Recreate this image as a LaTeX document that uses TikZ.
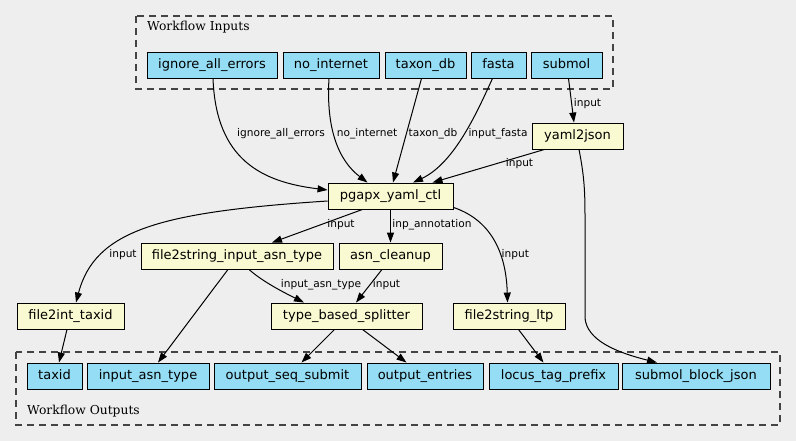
\documentclass[tikz,border=0pt]{standalone}
\usepackage{fontspec}
\setmainfont{DejaVu Sans}
\newfontfamily\cluserif{DejaVu Serif}
\usetikzlibrary{arrows.meta,calc}
\definecolor{bgc}{HTML}{EEEEEE}
\definecolor{ioblue}{HTML}{94DDF4}
\definecolor{stepyel}{HTML}{FAFAD2}
\definecolor{clug}{HTML}{444444}
\tikzset{
  box/.style={draw=black, line width=0.9pt, minimum height=26pt, inner sep=0pt,
    font=\fontsize{13}{15}\selectfont, text height=9.6pt, text depth=3pt},
  iobox/.style={box, fill=ioblue},
  stepbox/.style={box, fill=stepyel},
  clu/.style={draw=clug, line width=1.1pt, dash pattern=on 7pt off 5pt},
  clulabel/.style={font=\cluserif\fontsize{12.3}{14}\selectfont, anchor=west, inner sep=0pt},
  conn/.style={line width=1pt, -{Triangle[length=10pt,width=7pt]}},
  elabel/.style={font=\fontsize{10.6}{12}\selectfont, inner sep=0pt, text height=7.8pt, text depth=2.4pt}
}
\begin{document}
\begin{tikzpicture}[x=1pt,y=-1pt]
\fill[bgc] (0,0) rectangle (796,441);
\useasboundingbox (0,0) rectangle (796,441);
% clusters
\draw[clu] (136,16) rectangle (613,89);
\node[clulabel] (inlab) at (147,27.5) {Workflow Inputs};
\draw[clu] (16,352) rectangle (780,425);
\node[clulabel] (outlab) at (27,411) {Workflow Outputs};
% inputs
\node[iobox, minimum width=130pt] (ign) at (212,65) {ignore\_all\_errors};
\node[iobox, minimum width=96pt] (noi) at (331,65) {no\_internet};
\node[iobox, minimum width=81pt] (tax) at (425.5,65) {taxon\_db};
\node[iobox, minimum width=55pt] (fas) at (498.5,65) {fasta};
\node[iobox, minimum width=71pt] (sub) at (566.5,65) {submol};
% steps
\node[stepbox, minimum width=91pt] (y2j) at (577.5,136) {yaml2json};
\node[stepbox, minimum width=125pt] (pg) at (390.5,196) {pgapx\_yaml\_ctl};
\node[stepbox, minimum width=192pt] (fsa) at (237,256) {file2string\_input\_asn\_type};
\node[stepbox, minimum width=103pt] (asn) at (390.5,256) {asn\_cleanup};
\node[stepbox, minimum width=107pt] (fit) at (70.5,316) {file2int\_taxid};
\node[stepbox, minimum width=151pt] (tbs) at (346.5,316) {type\_based\_splitter};
\node[stepbox, minimum width=112pt] (ltp) at (509,316) {file2string\_ltp};
% outputs
\node[iobox, minimum width=55pt] (o1) at (54.5,376) {taxid};
\node[iobox, minimum width=122pt] (o2) at (148,376) {input\_asn\_type};
\node[iobox, minimum width=147pt] (o3) at (287.5,376) {output\_seq\_submit};
\node[iobox, minimum width=116pt] (o4) at (425,376) {output\_entries};
\node[iobox, minimum width=129pt] (o5) at (553.5,376) {locus\_tag\_prefix};
\node[iobox, minimum width=148pt] (o6) at (696,376) {submol\_block\_json};
% connectors
\draw[conn] ([xshift=1pt]ign.south) .. controls (216,160) and (262,182) .. ([yshift=6pt]pg.west);
\draw[conn] ([xshift=-2pt]noi.south) .. controls (326,128) and (338,160) .. ([xshift=-23pt]pg.north);
\draw[conn] ([xshift=-4pt]tax.south) -- ([xshift=2.5pt]pg.north);
\draw[conn] ([xshift=-6pt]fas.south) .. controls (478,110) and (455,163) .. ([xshift=22.5pt]pg.north);
\draw[conn] ([xshift=2pt]sub.south) -- ([xshift=-3.5pt]y2j.north);
\draw[conn] ([xshift=-33pt]y2j.south) -- ([xshift=42pt]pg.north);
\draw[conn] ([yshift=-5pt]pg.west) .. controls (160,212) and (95,230) .. ([xshift=5.5pt]fit.north);
\draw[conn] ([xshift=-28pt]pg.south) -- ([xshift=35pt]fsa.north);
\draw[conn] (pg.south) -- (asn.north);
\draw[conn] ([yshift=2pt]pg.south east) .. controls (485,218) and (506,245) .. ([xshift=-1.5pt]ltp.north);
\draw[conn] ([xshift=1.5pt]y2j.south) .. controls (584,175) and (585,190) .. (585,215) -- (585,318) .. controls (587,340) and (615,352) .. ([xshift=-39pt]o6.north);
\draw[conn] ([xshift=-9pt]fsa.south) -- ([xshift=10pt]o2.north);
\draw[conn] ([xshift=12pt]fsa.south) .. controls (263,282) and (285,293) .. ([xshift=-42.5pt]tbs.north);
\draw[conn] ([xshift=-8.5pt]asn.south) -- ([xshift=9.5pt]tbs.north);
\draw[conn] ([xshift=-3.5pt]fit.south) -- ([xshift=4.5pt]o1.north);
\draw[conn] ([xshift=-12pt]tbs.south) -- ([xshift=14pt]o3.north);
\draw[conn] ([xshift=16pt]tbs.south) -- ([xshift=-18.5pt]o4.north);
\draw[conn] ([xshift=9.5pt]ltp.south) -- ([xshift=-10pt]o5.north);
% edge labels
\node[elabel] (l1) at (281,134) {ignore\_all\_errors};
\node[elabel] (l2) at (367,134) {no\_internet};
\node[elabel] (l3) at (433,134) {taxon\_db};
\node[elabel] (l4) at (498,134) {input\_fasta};
\node[elabel] (l5) at (587.5,104) {input};
\node[elabel] (l6) at (519.5,164) {input};
\node[elabel] (l7) at (123,254.5) {input};
\node[elabel] (l8) at (341,225) {input};
\node[elabel] (l9) at (432,225) {inp\_annotation};
\node[elabel] (l10) at (515.3,254.5) {input};
\node[elabel] (l11) at (321,285) {input\_asn\_type};
\node[elabel] (l12) at (386.5,285) {input};
\end{tikzpicture}
\end{document}
